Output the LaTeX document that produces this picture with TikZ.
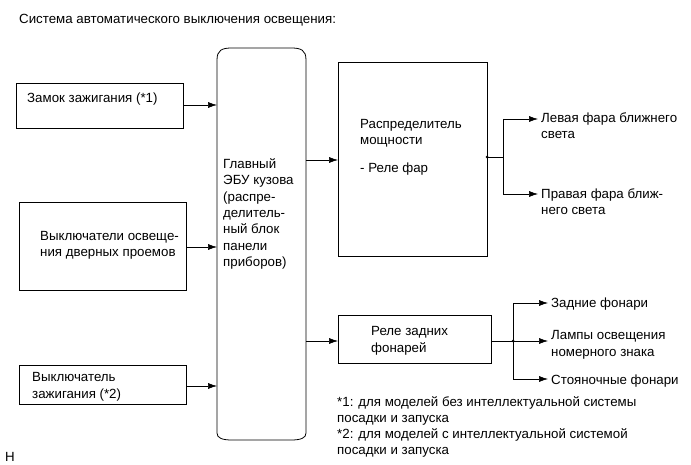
\documentclass[tikz,border=0pt]{standalone}
\usepackage{fontspec}
\setmainfont{Liberation Sans}
\usetikzlibrary{arrows.meta}
\begin{document}
\begin{tikzpicture}[x=1pt,y=-1pt,
  every node/.style={font=\fontsize{13.3}{16.5}\selectfont},
  box/.style={draw,line width=0.8pt,anchor=north west,inner sep=0pt},
  txt/.style={anchor=base west,align=left,inner sep=0pt},
  arr/.style={line width=0.6pt,-{Latex[length=9pt,width=6pt]}},
  ln/.style={line width=0.6pt},
  dot/.style={circle,fill,inner sep=0pt,minimum size=3pt}]
\useasboundingbox (0,0) rectangle (691,465);
% title
\node[txt] (title) at (19,24) {Система автоматического выключения освещения:};
% left boxes
\node[box,minimum width=167pt,minimum height=45pt] (zam) at (16,83) {};
\node[txt] (zamt) at (27,103) {Замок зажигания (*1)};
\node[box,minimum width=167pt,minimum height=88pt] (door) at (19,202) {};
\node[txt] (doort) at (40,257) {Выключатели освеще-\\ния дверных проемов};
\node[box,minimum width=167pt,minimum height=39pt] (ign) at (19,365) {};
\node[txt] (ignt) at (32,398) {Выключатель\\зажигания (*2)};
% ECU
\node[minimum width=89pt,minimum height=392pt,inner sep=0pt,anchor=north west] (ecu) at (217,48) {};
\draw[line width=0.8pt] (217,433) -- (217,60) .. controls (217,50) and (222,48) .. (232,48)
  -- (291,48) .. controls (301,48) and (306,50) .. (306,60) -- (306,433)
  .. controls (306,438) and (301,440) .. (291,440) -- (232,440) .. controls (222,440) and (217,438) .. (217,433);
\node[txt] (ecut) at (223,267) {Главный\\ЭБУ кузова\\(распре-\\делитель-\\ный блок\\панели\\приборов)};
% distributor
\node[box,minimum width=149pt,minimum height=194pt] (dist) at (338,62) {};
\node[txt] (distt) at (360,145) {Распределитель\\мощности};
\node[txt] (distr) at (360,173) {- Реле фар};
% rear relay
\node[box,minimum width=153pt,minimum height=48pt] (rear) at (338,315) {};
\node[txt] (reart) at (371,352) {Реле задних\\фонарей};
% arrows into ECU
\coordinate (a1) at (183,105);
\draw[arr] (a1) -- (a1 -| ecu.west);
\coordinate (a2) at (186,247);
\draw[arr] (a2) -- (a2 -| ecu.west);
\coordinate (a3) at (186,386);
\draw[arr] (a3) -- (a3 -| ecu.west);
% ECU outputs
\coordinate (b1) at (306,160);
\draw[arr] (b1) -- (b1 -| dist.west);
\coordinate (b2) at (306,341);
\draw[arr] (b2) -- (b2 -| rear.west);
% headlights
\node[dot] (d1) at (487,157) {};
\coordinate (v1) at (503,157);
\coordinate (v1t) at (503,119);
\coordinate (v1b) at (503,194);
\node[txt] (hl) at (541,139) {Левая фара ближнего\\света};
\node[txt] (hr) at (541,215) {Правая фара ближ-\\него света};
\draw[ln] (d1.center) -- (v1);
\draw[ln] (v1t) -- (v1b);
\draw[arr] (v1t) -- (538,119);
\draw[arr] (v1b) -- (538,194);
% rear lights
\node[dot] (d2) at (513,341) {};
\draw[ln] (rear.east |- d2) -- (d2.center);
\coordinate (v2t) at (513,303);
\coordinate (v2b) at (513,379);
\draw[ln] (v2t) -- (v2b);
\draw[arr] (v2t) -- (548,303);
\draw[arr] (d2.center) -- (548,341);
\draw[arr] (v2b) -- (548,379);
\node[txt] (r1) at (551,307) {Задние фонари};
\node[txt] (r2) at (551,356) {Лампы освещения\\номерного знака};
\node[txt] (r3) at (551,384) {Стояночные фонари};
% footnotes
\node[txt,font=\fontsize{13.3}{15.8}\selectfont] (fn) at (337,454) {*1: для моделей без интеллектуальной системы\\посадки и запуска\\*2: для моделей с интеллектуальной системой\\посадки и запуска};
\node[txt] (h) at (5,461) {H};
\end{tikzpicture}
\end{document}
